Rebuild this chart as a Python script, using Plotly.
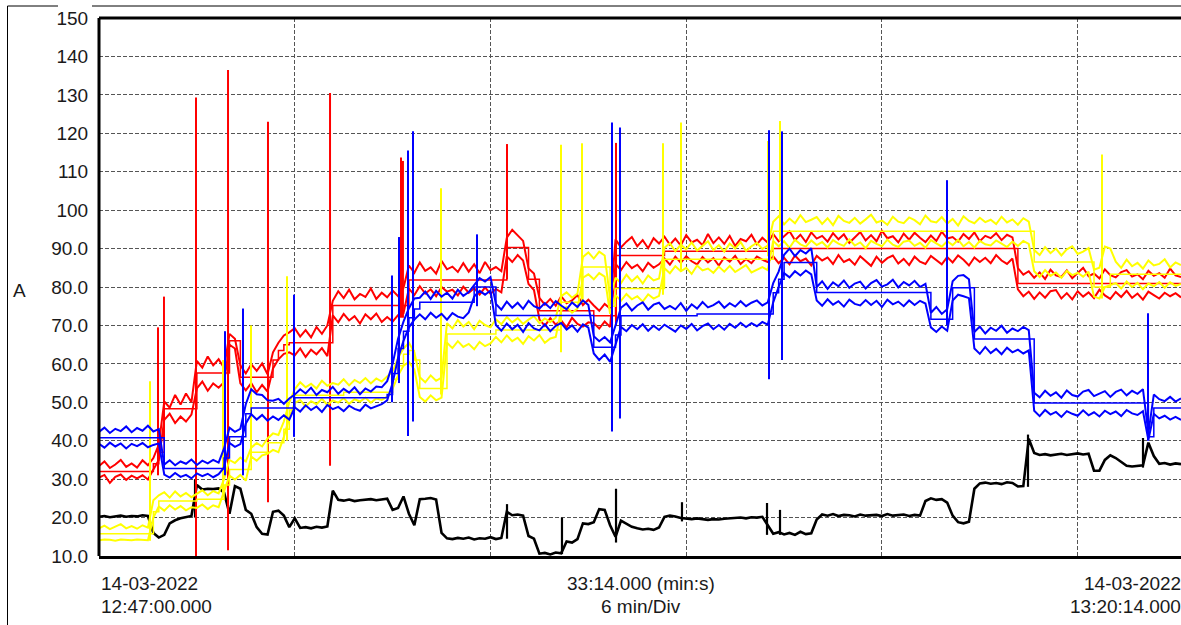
import plotly.graph_objects as go

# ---------------- data (time in seconds from 12:47:00, current in A) ----------------
T_STEP = 10
T = [i * T_STEP for i in range(200)]

RED_MAX = [
    33.4, 34.6, 32.9, 33.8, 35.0, 33.2, 34.1, 33.0, 34.9, 33.6,
    35.5, 39.0,
    50.2, 48.6, 51.9, 49.4, 52.3, 50.0,
    60.8, 59.0, 61.9, 59.6, 61.2, 58.9,
    67.8, 66.5,
    59.6, 57.5, 59.9, 58.2, 60.1, 57.3,
    63.0, 65.5, 67.4, 68.2,
    69.3, 67.1, 68.8, 66.9, 69.6, 67.8, 70.0,
    76.4, 78.9, 77.1, 79.3, 76.8, 78.2, 77.4, 79.6, 76.9, 78.5, 77.3, 79.1, 77.6, 79.8,
    85.6, 83.7, 86.4, 84.2, 85.1, 83.5, 86.8, 84.6, 85.3, 83.9, 86.2, 84.0, 85.9, 83.6, 86.5, 84.4, 85.2, 84.1,
    92.8, 94.9, 93.4, 92.0,
    84.8, 83.5,
    77.2, 75.4, 76.9, 75.1, 77.6, 75.8, 76.5, 77.9, 75.3, 76.7,
    75.2, 73.8, 75.6, 74.4,
    92.4, 90.3, 91.8, 93.0, 90.6, 92.2, 90.1, 92.7, 91.3,
    93.1, 91.0, 92.6, 90.8, 93.5, 91.6, 92.3, 90.9, 93.8, 91.4, 92.9, 91.2, 93.3, 90.7, 92.5, 91.9, 93.6, 91.1, 92.8, 91.5,
    93.8, 91.9, 93.1, 94.5, 92.2, 93.6, 91.7, 94.2, 92.6, 93.3,
    91.8, 94.0, 92.4, 93.7, 91.5, 92.9, 94.3, 92.1, 93.5, 91.9,
    94.6, 92.7, 93.2, 91.6, 93.9, 92.3, 94.1, 92.8, 91.7, 93.4,
    92.0, 94.4, 92.6, 93.0, 91.8, 93.8, 92.5, 94.2, 91.9, 93.3,
    92.7, 94.0, 92.2, 93.6, 92.9,
    84.9, 83.2, 84.1, 82.4, 83.8, 82.1, 84.5, 83.0, 82.6, 84.3,
    82.3, 83.7, 85.0, 82.8, 83.5, 82.2, 84.6, 83.1, 82.5, 83.9,
    84.4, 82.7, 83.3, 82.0, 84.2, 82.9, 83.6, 82.4, 84.8, 83.0, 82.6,
]

RED_MIN = [
    30.4, 31.1, 29.0, 30.6, 31.2, 29.8, 30.9, 30.2, 31.0, 29.9,
    32.5, 35.0,
    45.4, 47.0, 44.6, 46.3, 45.0, 46.8,
    53.6, 55.4, 53.0, 54.9, 53.8, 55.2,
    65.0, 64.0,
    54.9, 53.1, 55.0, 52.6, 54.5, 52.8,
    58.8, 61.2, 62.6, 63.0,
    62.2, 64.0, 61.8, 63.7, 62.5, 64.1, 62.0,
    72.6, 70.8, 73.0, 71.3, 72.4, 70.5, 72.9, 71.6, 73.1, 70.9, 72.2, 71.0, 72.7, 73.2,
    79.6, 77.9, 80.2, 78.3, 79.4, 77.6, 80.0, 78.8, 79.3, 77.8, 80.1, 78.5, 79.7, 78.0, 79.9, 78.2, 79.5, 78.6,
    88.0, 86.5, 88.3, 86.9,
    80.8, 79.2,
    71.6, 69.9, 71.9, 70.2, 71.3, 69.5, 72.0, 70.4, 69.7, 70.8,
    70.6, 69.2, 71.0, 69.6,
    86.0, 84.4, 86.5, 84.9, 85.8, 84.1, 86.3, 85.0, 85.9,
    87.4, 85.8, 87.9, 86.3, 88.0, 86.7, 85.9, 87.8, 86.4, 87.5, 85.6, 87.7, 86.6, 88.1, 86.0, 87.3, 86.2, 87.9, 87.1, 86.5,
    88.0, 86.2, 87.6, 85.9, 88.2, 86.7, 87.4, 85.6, 88.1, 86.9,
    87.7, 86.0, 88.3, 86.5, 87.2, 85.8, 88.0, 86.8, 85.5, 87.9,
    86.3, 87.5, 88.2, 86.1, 87.3, 85.7, 87.9, 86.6, 86.0, 88.1,
    87.0, 85.9, 87.8, 86.4, 88.2, 87.1, 85.6, 87.7, 86.5, 87.6,
    86.2, 88.3, 86.9, 86.0, 87.4,
    79.4, 77.6, 78.8, 76.9, 78.6, 77.2, 78.9, 79.2, 77.0, 78.4,
    76.8, 78.9, 77.5, 78.6, 77.1, 79.3, 77.8, 76.9, 78.7, 77.4,
    79.0, 77.2, 78.3, 76.7, 78.8, 77.9, 77.0, 78.5, 77.6, 78.4, 77.3,
]

YELLOW_MAX = [
    17.2, 17.9, 17.0, 17.6, 18.3, 17.2, 17.8, 17.1, 18.0, 17.4,
    24.5, 25.8, 26.6, 25.2, 26.8, 25.5, 26.4, 25.3,
    26.2, 27.1, 25.8, 26.9, 26.3,
    30.0,
    35.0, 34.2, 35.6, 34.6,
    38.2, 39.4, 38.5,
    40.6, 41.9, 41.5,
    45.0, 50.0,
    53.4, 55.2, 53.9, 54.8, 53.6, 55.6, 54.3, 55.0, 54.6, 56.0, 54.4, 55.8, 55.0, 56.3, 54.9, 56.2, 55.4, 56.6,
    58.0, 61.5, 64.0, 65.5, 63.0,
    56.5, 55.2, 57.0, 55.6, 56.4,
    70.6, 69.2, 71.4, 69.7, 70.9, 69.0, 71.2, 70.1, 69.5,
    71.6, 70.3, 72.2, 70.8, 71.9, 70.4, 71.5, 72.4, 70.6, 71.8, 70.9, 72.0,
    77.6, 78.6, 77.2, 78.3,
    87.8, 89.0, 87.4, 89.2, 88.2,
    77.0,
    82.4, 81.0, 83.2, 81.5, 82.8, 80.9, 83.0, 81.7, 82.2,
    90.2, 91.4, 89.3, 91.0, 89.8, 91.6, 89.5, 90.7, 91.9, 89.6, 90.9, 89.2, 91.3, 90.0, 91.7, 89.4, 90.6, 91.5, 89.9, 90.8,
    97.0, 98.4, 96.3, 97.8, 96.6, 98.7, 96.9, 97.5, 98.2, 96.4,
    97.9, 96.1, 98.5, 97.2, 96.7, 98.0, 96.5, 97.6, 98.8, 96.8,
    97.3, 96.2, 98.3, 97.0, 96.6, 98.1, 97.4, 96.3, 98.6, 97.1,
    96.8, 98.2, 96.5, 97.7, 96.0, 98.4, 97.2, 96.6, 98.0, 96.9,
    97.5, 96.4, 98.3, 96.8, 97.6, 96.2, 97.9, 97.0,
    89.6, 88.3, 90.4, 88.8, 90.0, 88.2, 89.8, 90.6, 88.6, 89.2, 90.1,
    84.5, 85.0, 90.5, 90.0,
    86.6, 85.0, 87.1, 85.4, 86.3, 84.8, 86.9, 85.6, 86.0, 87.2, 85.1, 86.4, 85.7,
]

YELLOW_MIN = [
    14.1, 14.3, 14.2, 14.0, 14.3, 14.2, 14.1, 14.3, 14.2, 14.1,
    20.0, 22.9, 21.8, 23.2, 22.1, 23.0, 21.9, 22.7,
    22.5, 23.4, 22.2, 23.2, 22.7,
    27.0,
    30.9, 29.9, 31.1, 29.6,
    35.9, 34.8, 36.2,
    36.6, 37.6, 37.0,
    41.0, 46.0,
    49.8, 50.6, 48.9, 50.3, 49.5, 50.9, 49.3, 50.5, 49.9, 51.1, 49.6, 50.8, 50.2, 51.2, 49.9, 51.0, 50.6, 51.5,
    53.5, 57.0, 59.5, 60.5, 58.5,
    51.4, 50.2, 51.8, 50.5, 51.2,
    65.5, 64.1, 65.9, 64.4, 65.2, 63.8, 65.7, 64.6, 65.3,
    67.0, 65.6, 67.4, 65.9, 66.8, 65.2, 67.2, 66.1, 67.5, 65.5, 66.6, 67.0,
    74.0, 74.8, 73.3, 74.4,
    82.4, 83.3, 82.0, 83.6, 82.7,
    73.0,
    77.9, 76.4, 78.2, 76.8, 77.6, 76.2, 78.1, 77.0, 77.7,
    84.9, 83.6, 85.4, 84.1, 85.0, 83.4, 85.6, 84.3, 84.8, 83.7, 85.3, 84.0, 85.5, 83.9, 84.7, 85.7, 83.8, 84.6, 85.2, 84.4,
    92.0, 90.6, 91.9, 90.2, 92.3, 91.1, 90.5, 92.1, 90.9, 91.7,
    90.3, 92.2, 91.3, 90.7, 92.4, 90.8, 91.6, 90.1, 92.0, 91.2,
    90.6, 92.3, 91.0, 90.4, 91.8, 92.1, 90.7, 91.5, 90.2, 92.2,
    91.4, 90.5, 91.9, 90.9, 92.3, 90.6, 91.7, 90.3, 92.0, 91.1,
    90.8, 92.1, 91.3, 90.4, 91.8, 90.7, 92.0, 91.2,
    84.1, 82.6, 84.4, 82.9, 83.8, 82.4, 84.2, 83.1, 83.7, 82.7, 84.0,
    77.5, 77.0, 80.0, 80.5,
    81.0, 79.6, 81.4, 80.0, 81.1, 79.4, 80.9, 80.2, 81.3, 79.8, 81.2, 80.3, 80.8,
]

BLUE_MAX = [
    42.3, 43.4, 42.0, 43.1, 42.5, 43.7, 42.2, 43.3, 42.6, 43.9, 42.4, 43.0,
    33.8, 34.9, 33.6, 34.6, 34.0, 35.1, 33.7, 34.8, 34.1, 35.0, 34.3,
    38.0,
    43.4, 42.3, 43.1,
    49.5,
    53.4, 52.1, 51.9, 50.5, 50.4, 50.9, 49.6, 51.0,
    52.0, 53.4, 52.3, 53.8, 51.9, 53.2, 52.6, 54.0, 52.2, 53.5, 52.5, 53.9, 52.1, 53.6, 52.8, 54.1, 53.9, 55.5,
    60.0, 66.5, 71.0, 74.5, 77.0,
    77.2, 78.8, 76.9, 79.0, 77.5, 78.5, 77.0, 79.3, 77.7, 78.7,
    80.5, 82.3, 81.4, 82.6,
    75.6, 74.1, 76.2, 74.6, 75.9, 74.3, 76.4, 75.0, 74.4, 75.8, 74.5, 76.3, 75.2, 74.2, 76.0, 74.8, 76.5, 75.3,
    67.2, 65.9, 67.0, 65.6,
    70.0,
    74.6, 75.7, 73.9, 75.2, 76.0, 74.1, 75.4, 75.9, 74.3, 75.1,
    74.2, 75.8, 73.8, 75.5, 74.4, 76.1, 74.7, 75.3, 76.2, 74.6,
    75.8, 74.9, 76.3, 75.0, 75.9, 76.5, 75.2, 76.0,
    81.0, 84.0,
    88.4, 90.0, 88.0, 89.6, 88.7, 90.1,
    80.0, 81.5, 79.5, 81.2, 80.2, 81.7, 79.8, 80.9, 81.4, 79.6, 81.0, 81.8, 80.1, 80.7, 81.9, 79.9, 81.3, 80.4, 81.6, 80.0, 80.8,
    73.3, 74.8, 73.0, 74.2,
    81.5, 82.9, 83.1, 82.0,
    68.3, 69.7, 67.9, 69.4, 68.6, 69.9, 68.1, 69.2, 68.5, 69.6, 68.8,
    52.5, 51.3, 53.0, 51.7, 52.6, 51.2, 53.1, 51.9, 51.5, 52.8, 53.2, 51.6, 52.3, 52.9, 51.4, 52.7, 53.3, 51.8, 53.0, 52.2, 53.4,
    42.0,
    52.0, 50.8, 50.3, 51.4, 50.2, 51.0,
]

BLUE_MIN = [
    39.2, 38.2, 39.5, 38.5, 39.3, 38.0, 39.2, 38.6, 39.4, 38.3, 38.9, 39.3,
    31.2, 30.4, 31.6, 30.6, 31.1, 30.2, 31.5, 30.8, 31.4, 30.5, 31.3,
    33.0,
    39.4, 38.4, 39.1,
    44.5,
    46.9, 45.5, 46.7, 45.2, 46.3, 45.4, 46.6, 45.5,
    48.7, 47.6, 49.2, 48.0, 48.9, 47.5, 49.3, 48.2, 48.8, 47.7, 49.1, 48.3, 47.8, 49.4, 48.4, 49.0, 49.5, 50.5,
    55.0, 61.5, 66.0, 69.5, 71.5,
    72.9, 71.6, 73.3, 72.0, 73.0, 71.5, 73.2, 72.3, 71.9, 73.4,
    77.5, 79.0, 78.0, 79.1,
    70.1, 68.6, 70.5, 69.0, 70.2, 68.3, 70.6, 69.2, 68.7, 70.3, 68.5, 69.9, 70.6, 68.9, 70.0, 68.4, 70.3, 69.4,
    62.7, 61.0, 62.4, 60.5,
    65.0,
    69.6, 68.5, 70.1, 69.0, 70.3, 68.6, 69.9, 68.8, 70.2, 69.3,
    68.4, 70.0, 69.1, 70.4, 68.7, 69.8, 70.5, 69.0, 70.1, 68.9,
    70.4, 69.4, 70.7, 69.6, 70.6, 69.8, 70.9, 70.2,
    76.0, 80.0,
    83.6, 82.5, 84.1, 83.0, 84.3, 83.3,
    76.5, 75.1, 76.8, 75.4, 76.3, 74.9, 76.7, 75.6, 75.2, 76.6, 75.3, 76.4, 74.8, 76.7, 75.5, 76.2, 75.0, 76.5, 75.3, 76.4, 75.7,
    69.5, 68.3, 69.7, 68.6,
    76.5, 78.0, 77.6, 77.1,
    64.0, 62.6, 64.4, 62.8, 63.9, 62.5, 64.2, 63.0, 63.7, 62.7, 63.5,
    47.8, 46.4, 48.0, 46.8, 47.5, 46.2, 47.7, 47.0, 46.5, 47.9, 46.6, 47.4, 46.3, 47.8, 46.9, 47.6, 46.4, 48.0, 47.1, 46.7, 47.7,
    40.2,
    47.0, 45.8, 46.5, 45.5, 46.2, 45.4,
]

BLACK = [
    20.2, 20.4, 20.1, 20.3, 20.5, 20.2, 20.4, 20.3, 20.6, 20.4,
    16.0, 14.8, 15.5, 18.5, 19.3, 19.8, 20.2, 20.4,
    28.5, 27.3, 27.5, 27.4, 27.6, 26.5,
    21.0, 28.2, 27.5, 22.0, 21.0, 17.5, 15.8, 15.6, 21.5, 21.8, 20.5, 17.5,
    19.8, 17.3, 17.5, 17.2, 17.6, 17.4, 17.7,
    27.0, 24.6, 24.4, 24.7, 24.3, 24.5, 24.6, 24.8, 24.5, 24.7, 24.9,
    22.0, 22.5, 25.5, 21.0, 18.0, 24.8, 24.9, 25.1, 24.7, 16.0,
    14.6, 14.4, 14.7, 14.5, 14.8, 14.3, 14.6, 14.5, 14.9, 14.4, 14.7,
    21.5, 20.6, 20.8, 20.5, 15.2, 14.5, 10.6, 10.8, 10.4, 10.9, 10.7, 13.8, 13.5, 14.4,
    18.5, 18.3, 18.8, 22.2, 22.0, 18.0, 15.0, 19.2, 18.4, 17.6, 17.2, 16.9, 17.1, 16.8, 17.4, 20.2, 20.5, 20.3,
    19.9, 19.7, 19.6, 19.8, 19.5, 19.4, 19.6, 19.5, 19.7, 19.8, 19.9, 20.0, 19.8, 20.1, 20.0, 20.2,
    18.0, 15.8, 16.2, 15.6, 16.0, 15.5, 16.3, 15.7, 15.9,
    19.5, 20.8, 20.5, 20.9, 20.4, 20.7, 20.6, 20.3, 20.8, 20.5, 20.6, 20.7, 20.4, 20.9, 20.5, 20.6, 20.8, 20.4, 20.7, 20.5,
    24.3, 25.0, 24.6, 24.8, 23.9, 20.5, 18.8, 18.5, 18.9,
    27.5, 28.9, 29.1, 28.8, 29.0, 28.7, 29.2, 29.0, 28.1, 28.2,
    40.5, 36.8, 36.3, 36.5, 36.2, 36.4, 36.6, 36.3, 36.5, 36.7, 36.4, 36.6,
    32.2, 32.2, 35.0, 36.2, 35.5, 34.5, 33.5, 33.3, 33.4, 33.6, 39.5, 36.0, 34.0, 34.2, 33.8, 34.1, 33.9,
]

# average (thin) lines: step breakpoints
RED_AVG_T = [0, 100, 110, 120, 180, 240, 260, 320, 330, 340, 350, 430, 570, 750, 790, 810, 910, 950, 1040, 1240, 1690, 1990]
RED_AVG_V = [32.0, 34.0, 37.0, 48.3, 57.6, 66.0, 56.5, 61.0, 63.5, 65.0, 65.5, 75.2, 81.8, 90.3, 82.0, 73.8, 72.5, 88.2, 89.3, 90.0, 80.9, 80.9]
YELLOW_AVG_T = [0, 100, 110, 180, 230, 240, 280, 310, 340, 350, 360, 450, 540, 550, 560, 570, 580, 590, 640, 730, 850, 890, 940, 950, 1040, 1240, 1720, 1830, 1860, 1990]
YELLOW_AVG_V = [15.8, 21.5, 24.3, 24.8, 28.5, 32.5, 37.0, 39.5, 43.0, 48.0, 51.8, 52.6, 56.0, 59.5, 62.5, 63.5, 61.0, 53.6, 67.8, 68.8, 76.0, 85.2, 75.0, 79.6, 87.2, 94.5, 86.5, 80.0, 83.3, 83.3]
BLUE_AVG_T = [0, 120, 230, 240, 270, 280, 360, 530, 540, 550, 560, 570, 580, 590, 690, 730, 910, 950, 960, 1100, 1240, 1250, 1260, 1320, 1530, 1570, 1610, 1720, 1930, 1940, 1990]
BLUE_AVG_V = [40.8, 32.8, 35.5, 41.0, 47.0, 48.5, 51.2, 52.0, 57.5, 64.0, 68.5, 72.0, 74.3, 76.0, 80.0, 72.6, 64.3, 67.5, 72.5, 73.0, 78.5, 82.0, 86.4, 78.6, 71.6, 79.8, 66.5, 49.8, 41.0, 48.5, 48.5]

# transient spikes
RED_SPIKE_T = [108.5, 119.5, 178.4, 237.3, 310.8, 424.9, 555.4, 559.0, 750.4, 950.9]
RED_SPIKE_TOP = [69.5, 77.5, 129.3, 136.5, 123.0, 130.5, 113.7, 112.8, 117.2, 117.5]
RED_SPIKE_BOT = [31.0, 40.0, 10.0, 11.5, 24.0, 33.5, 72.0, 72.0, 82.0, 70.0]
YELLOW_SPIKE_T = [93.8, 228.0, 279.6, 345.8, 629.0, 849.7, 888.3, 1037.3, 1070.4, 1230.4, 1252.5, 1844.7]
YELLOW_SPIKE_TOP = [55.5, 61.0, 70.0, 82.8, 105.7, 117.0, 117.4, 117.4, 122.8, 118.0, 123.2, 114.5]
YELLOW_SPIKE_BOT = [14.0, 26.0, 35.0, 40.0, 52.0, 63.0, 76.0, 78.0, 84.0, 88.0, 92.0, 77.0]
BLUE_SPIKE_T = [231.7, 264.8, 358.6, 538.9, 551.8, 568.3, 577.5, 695.2, 943.5, 958.2, 1232.3, 1256.2, 1559.6, 1929.3]
BLUE_SPIKE_TOP = [68.5, 74.4, 78.0, 83.0, 93.0, 115.5, 120.5, 93.7, 122.8, 121.5, 120.8, 120.5, 107.8, 73.2]
BLUE_SPIKE_BOT = [31.0, 31.0, 41.0, 50.0, 55.0, 41.2, 45.0, 75.0, 42.4, 45.8, 56.0, 61.0, 70.0, 40.0]
BLACK_SPIKE_T = [176.6, 750.4, 851.5, 950.9, 1072.2, 1228.6, 1252.5, 1708.6, 1920.1]
BLACK_SPIKE_TOP = [30.0, 23.5, 20.0, 27.5, 24.0, 23.8, 22.0, 41.6, 40.7]
BLACK_SPIKE_BOT = [20.0, 14.5, 10.5, 13.5, 19.0, 15.5, 15.5, 28.0, 33.0]

Y_TICKS = [10, 20, 30, 40, 50, 60, 70, 80, 90, 100, 110, 120, 130, 140, 150]
Y_TICK_TEXT = ["10.0", "20.0", "30.0", "40.0", "50.0", "60.0", "70.0", "80.0", "90.0",
               "100", "110", "120", "130", "140", "150"]
X_RANGE = [0, 1990]
X_DIV = 360

RED, YELLOW, BLUE, BLACK_C = "#ff0000", "#ffff00", "#0000ff", "#000000"

for name, s in [("RED_MAX", RED_MAX), ("RED_MIN", RED_MIN), ("YELLOW_MAX", YELLOW_MAX),
                ("YELLOW_MIN", YELLOW_MIN), ("BLUE_MAX", BLUE_MAX), ("BLUE_MIN", BLUE_MIN),
                ("BLACK", BLACK)]:
    if len(s) != len(T):
        raise SystemExit(f"{name} has {len(s)} values, expected {len(T)}")

# ---------------- figure ----------------
fig = go.Figure()


def noisy(vals, color, width=2.0):
    fig.add_trace(go.Scatter(x=T, y=vals, mode="lines",
                             line=dict(color=color, width=width), hoverinfo="skip"))


def avg(ts, vs, color):
    fig.add_trace(go.Scatter(x=ts, y=vs, mode="lines", line_shape="hv",
                             line=dict(color=color, width=1.5), hoverinfo="skip"))


def spikes(ts, tops, bots, color, width=2.0):
    xs, ys = [], []
    for t, a, b in zip(ts, tops, bots):
        xs += [t, t, None]
        ys += [b, a, None]
    fig.add_trace(go.Scatter(x=xs, y=ys, mode="lines",
                             line=dict(color=color, width=width), hoverinfo="skip"))


noisy(BLACK, BLACK_C, 2.6)
spikes(BLACK_SPIKE_T, BLACK_SPIKE_TOP, BLACK_SPIKE_BOT, BLACK_C, 2.2)

noisy(RED_MAX, RED)
noisy(RED_MIN, RED)
avg(RED_AVG_T, RED_AVG_V, RED)
spikes(RED_SPIKE_T, RED_SPIKE_TOP, RED_SPIKE_BOT, RED)

noisy(YELLOW_MAX, YELLOW)
noisy(YELLOW_MIN, YELLOW)
avg(YELLOW_AVG_T, YELLOW_AVG_V, YELLOW)
spikes(YELLOW_SPIKE_T, YELLOW_SPIKE_TOP, YELLOW_SPIKE_BOT, YELLOW)

noisy(BLUE_MAX, BLUE)
noisy(BLUE_MIN, BLUE)
avg(BLUE_AVG_T, BLUE_AVG_V, BLUE)
spikes(BLUE_SPIKE_T, BLUE_SPIKE_TOP, BLUE_SPIKE_BOT, BLUE)

FONT = "Liberation Sans, Arial, sans-serif"
TXT = "#1a1a1a"

W, H = 1181, 625
L, R, TOP, BOT = 99, 0, 18, 69
PW, PH = W - L - R, H - TOP - BOT


def px(xp):
    return (xp - L) / PW


def py(yp):
    return (H - BOT - yp) / PH


fig.update_layout(
    width=W, height=H,
    margin=dict(l=L, r=R, t=TOP, b=BOT, pad=0),
    paper_bgcolor="white", plot_bgcolor="white",
    showlegend=False, hovermode=False,
    font=dict(family=FONT, size=19, color=TXT),
    xaxis=dict(range=X_RANGE, tick0=0, dtick=X_DIV, showticklabels=False,
               showgrid=True, gridcolor="#555555", gridwidth=1, griddash="4px,2px",
               zeroline=False, showline=False, ticks=""),
    yaxis=dict(range=[10, 150], tickvals=Y_TICKS, ticktext=Y_TICK_TEXT,
               showgrid=True, gridcolor="#555555", gridwidth=1, griddash="4px,2px",
               zeroline=False, showline=False, ticks="outside", ticklen=6,
               tickcolor="rgba(0,0,0,0)", tickfont=dict(size=19, color=TXT)),
)

shapes = []
# thick plot border (left, top, bottom)
for x0, y0, x1, y1 in [(0, 0, 0, 1), (0, 1, 1.01, 1), (0, -0.003, 1.01, -0.003)]:
    shapes.append(dict(type="line", xref="paper", yref="paper", x0=x0, y0=y0, x1=x1, y1=y1,
                       line=dict(color="black", width=3), layer="above"))
# thin outer frame
for x0, y0, x1, y1 in [(7.5, 6, 7.5, 626), (7.5, 6, 58, 6), (92, 6, 1185, 6)]:
    shapes.append(dict(type="line", xref="paper", yref="paper",
                       x0=px(x0), y0=py(y0), x1=px(x1), y1=py(y1),
                       line=dict(color="black", width=1), layer="above"))
fig.update_layout(shapes=shapes)

ann = [
    ("A", 19, 290, "center"),
    ("14-03-2022", 99, 583, "left"),
    ("12:47:00.000", 99, 606, "left"),
    ("33:14.000 (min:s)", 641, 583, "center"),
    ("6 min/Div", 641, 606, "center"),
    ("14-03-2022", 1183, 583, "right"),
    ("13:20:14.000", 1183, 606, "right"),
]
for text, xp, yp, anchor in ann:
    fig.add_annotation(text=text, xref="paper", yref="paper", x=px(xp), y=py(yp),
                       xanchor=anchor, yanchor="middle", showarrow=False,
                       font=dict(family=FONT, size=19, color=TXT))

fig.write_html("out.html")
